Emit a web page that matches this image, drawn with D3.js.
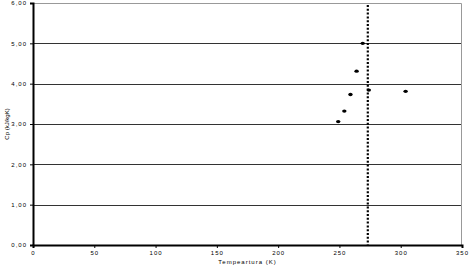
<!DOCTYPE html>
<html>
<head>
<meta charset="utf-8">
<script src="https://cdnjs.cloudflare.com/ajax/libs/d3/7.8.5/d3.min.js"></script>
<style>
body{margin:0;background:#fff;}
svg text{font-family:"Liberation Sans",Arial,sans-serif;font-size:6px;letter-spacing:1px;fill:#000;}
</style>
</head>
<body>
<svg id="chart" width="470" height="267"></svg>
<script>
// datos
var temps = [249, 254, 259, 264, 269, 274, 304];
var cps   = [3.06, 3.32, 3.73, 4.31, 5.00, 3.84, 3.81];
var tFusion = 273.15;
var xTicks = [0, 50, 100, 150, 200, 250, 300, 350];
var yTicks = [0, 1, 2, 3, 4, 5, 6];

var svg = d3.select('#chart');
var x = d3.scaleLinear().domain([0, 350]).range([33, 462]);
var y = d3.scaleLinear().domain([0, 6]).range([245, 3]);
var fmt = function(d){ return d3.format('.2f')(d).replace('.', ','); };

// lineas de la cuadricula
svg.append('g').selectAll('line').data(yTicks.filter(function(d){ return d > 0 && d < 6; }))
	.enter().append('line')
	.attr('x1', x(0)).attr('x2', x(350))
	.attr('y1', function(d){ return Math.round(y(d)) + 0.5; })
	.attr('y2', function(d){ return Math.round(y(d)) + 0.5; })
	.attr('stroke', '#333').attr('stroke-width', 1.2);

// borde superior y derecho
svg.append('path')
	.attr('d', 'M' + x(0) + ',' + (y(6) + 0.5) + 'H' + (x(350) - 0.5) + 'V' + y(0))
	.attr('fill', 'none').attr('stroke', '#999').attr('stroke-width', 1);

// ejes
var xAxis = svg.append('g').attr('transform', 'translate(0,' + y(0) + ')')
	.call(d3.axisBottom(x).tickValues(xTicks).tickSize(3).tickPadding(3));
var yAxis = svg.append('g').attr('transform', 'translate(' + x(0) + ',0)')
	.call(d3.axisLeft(y).tickValues(yTicks).tickFormat(fmt).tickSize(3).tickPadding(3));
[xAxis, yAxis].forEach(function(a){
	a.select('.domain').attr('stroke', '#000').attr('stroke-width', 2);
	a.selectAll('.tick line').attr('stroke', '#000');
	a.selectAll('text').attr('font-size', null).attr('font-family', null);
	a.attr('font-size', null).attr('font-family', null);
});

// linea punteada (273,15 K)
svg.append('line')
	.attr('x1', x(tFusion)).attr('x2', x(tFusion))
	.attr('y1', y(5.95)).attr('y2', y(0))
	.attr('stroke', '#000').attr('stroke-width', 2.2)
	.attr('stroke-dasharray', '2,1.8');

// puntos
svg.append('g').selectAll('ellipse').data(temps)
	.enter().append('ellipse')
	.attr('cx', function(d){ return x(d); })
	.attr('cy', function(d, i){ return y(cps[i]); })
	.attr('rx', 2.2).attr('ry', 1.7)
	.attr('fill', '#000');

// titulos
svg.append('text')
	.attr('x', (x(0) + x(350)) / 2).attr('y', 264)
	.attr('text-anchor', 'middle')
	.text('Tempeartura (K)');
svg.append('text')
	.attr('transform', 'translate(9,' + (y(3) + 0) + ') rotate(-90)')
	.attr('text-anchor', 'middle')
	.style('letter-spacing', '0px')
	.text('Cp (kJ/kgK)');
</script>
</body>
</html>
